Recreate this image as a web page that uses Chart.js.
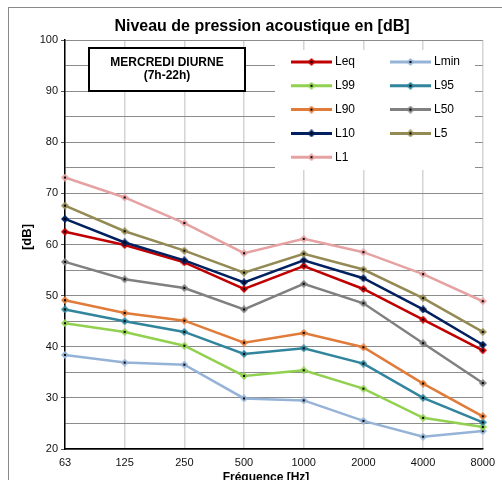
<!DOCTYPE html>
<html>
<head>
<meta charset="utf-8">
<script src="https://cdn.jsdelivr.net/npm/chart.js@4.4.1/dist/chart.umd.min.js"></script>
<style>
  html, body { margin: 0; padding: 0; background: #fff; }
  #wrap { position: relative; width: 502px; height: 480px; }
</style>
</head>
<body>
<div id="wrap"><canvas id="chart" width="502" height="480"></canvas></div>
<script>
const frequencies = ['63', '125', '250', '500', '1000', '2000', '4000', '8000'];

const leq  = [62.5, 59.9, 56.5, 51.3, 55.8, 51.3, 45.3, 39.3];
const lmin = [38.4, 36.9, 36.5, 29.9, 29.5, 25.5, 22.4, 23.5];
const l99  = [44.6, 42.9, 40.2, 34.3, 35.4, 31.8, 26.1, 24.3];
const l95  = [47.3, 45.0, 42.9, 38.6, 39.7, 36.7, 30.0, 25.2];
const l90  = [49.1, 46.6, 45.1, 40.8, 42.7, 39.9, 32.8, 26.4];
const l50  = [56.6, 53.2, 51.5, 47.3, 52.3, 48.5, 40.7, 32.9];
const l10  = [65.0, 60.4, 56.9, 52.6, 56.9, 53.4, 47.3, 40.4];
const l5   = [67.6, 62.6, 58.8, 54.5, 58.2, 55.1, 49.5, 42.9];
const l1   = [73.1, 69.2, 64.2, 58.3, 61.1, 58.5, 54.2, 48.9];

const seriesNames = ['Leq', 'Lmin', 'L99', 'L95', 'L90', 'L50', 'L10', 'L5', 'L1'];
const seriesData = [leq, lmin, l99, l95, l90, l50, l10, l5, l1];
const seriesColors = ['#C00000', '#95B3D7', '#92D050', '#31859C', '#E07B39',
                      '#808080', '#002060', '#948A54', '#E6A2A2'];

const yTicks = [20, 30, 40, 50, 60, 70, 80, 90, 100];

// little diamond with a black dot, like the excel marker
function makeMarker(color) {
  const c = document.createElement('canvas');
  c.width = 8; c.height = 8;
  const g = c.getContext('2d');
  g.fillStyle = color;
  g.beginPath();
  g.moveTo(4, 0); g.lineTo(8, 4); g.lineTo(4, 8); g.lineTo(0, 4);
  g.closePath();
  g.fill();
  g.fillStyle = '#000';
  g.fillRect(3, 3, 2, 2);
  return c;
}

const markers = seriesColors.map(makeMarker);

const datasets = seriesNames.map((name, i) => ({
  label: name,
  data: seriesData[i],
  borderColor: seriesColors[i],
  backgroundColor: seriesColors[i],
  borderWidth: 2.5,
  pointStyle: markers[i],
  pointRadius: 4,
  tension: 0,
  fill: false,
  order: -i,
}));

const FONT = '"Liberation Sans", Arial, sans-serif';

const decorations = {
  id: 'decorations',
  beforeDraw(chart) {
    const ctx = chart.ctx;
    ctx.save();
    ctx.fillStyle = '#fff';
    ctx.fillRect(0, 0, chart.width, chart.height);
    ctx.strokeStyle = '#8a8a8a';
    ctx.lineWidth = 1;
    ctx.strokeRect(8.5, 7.5, 1000, 1000);
    ctx.restore();
  },
  afterDraw(chart) {
    const ctx = chart.ctx;
    ctx.save();

    // title
    ctx.fillStyle = '#000';
    ctx.font = 'bold 16px ' + FONT;
    ctx.textAlign = 'center';
    ctx.textBaseline = 'alphabetic';
    ctx.fillText('Niveau de pression acoustique en [dB]', 262, 31);

    // axis titles
    ctx.font = 'bold 12px ' + FONT;
    ctx.fillText('Fréquence [Hz]', 266, 481);
    ctx.save();
    ctx.translate(27, 237);
    ctx.rotate(-Math.PI / 2);
    ctx.font = 'bold 13px ' + FONT;
    ctx.textBaseline = 'middle';
    ctx.fillText('[dB]', 0, 0);
    ctx.restore();

    // label box
    ctx.fillStyle = '#fff';
    ctx.fillRect(89, 48, 156, 43);
    ctx.strokeStyle = '#000';
    ctx.lineWidth = 2;
    ctx.strokeRect(89, 48, 156, 43);
    ctx.fillStyle = '#000';
    ctx.font = 'bold 12px ' + FONT;
    ctx.textBaseline = 'middle';
    ctx.fillText('MERCREDI DIURNE', 167, 63);
    ctx.fillText('(7h-22h)', 167, 76);

    // legend, two columns
    ctx.fillStyle = '#fff';
    ctx.fillRect(275, 50, 200, 120);
    ctx.font = '12px ' + FONT;
    ctx.textAlign = 'left';
    chart.data.datasets.forEach((ds, i) => {
      const col = i % 2, row = Math.floor(i / 2);
      const x0 = col === 0 ? 291 : 390;
      const y = 62 + row * 23.8;
      ctx.strokeStyle = ds.borderColor;
      ctx.lineWidth = 3;
      ctx.beginPath();
      ctx.moveTo(x0, y);
      ctx.lineTo(x0 + 41, y);
      ctx.stroke();
      ctx.drawImage(ds.pointStyle, x0 + 20.5 - 4, y - 4);
      ctx.fillStyle = '#000';
      ctx.fillText(ds.label, x0 + 44, y);
    });

    ctx.restore();
  }
};

new Chart(document.getElementById('chart'), {
  type: 'line',
  data: { labels: frequencies, datasets: datasets },
  options: {
    responsive: false,
    animation: false,
    layout: { padding: { left: 0, right: 19, top: 40, bottom: 0 } },
    plugins: {
      legend: { display: false },
      title: { display: false },
      tooltip: { enabled: false },
    },
    scales: {
      x: {
        type: 'category',
        offset: false,
        grid: { color: '#d4d4d4', lineWidth: 1.5, drawTicks: false, offset: false },
        border: { color: '#000', width: 1.5 },
        ticks: { color: '#111', font: { family: FONT, size: 11 }, padding: 7, maxRotation: 0 },
        afterFit: s => { s.height = 31; },
      },
      y: {
        min: yTicks[0],
        max: yTicks[yTicks.length - 1],
        grid: {
          color: '#8c8c8c',
          lineWidth: 1,
          tickLength: 4,
          tickColor: c => (c.tick && c.tick.value % 10 === 0 ? '#555' : 'rgba(0,0,0,0)'),
        },
        border: { color: '#000', width: 1.5 },
        ticks: {
          stepSize: 5,
          color: '#111',
          padding: 3,
          font: { family: FONT, size: 11 },
          callback: v => (yTicks.includes(v) ? v : ''),
        },
        afterFit: s => { s.width = 65; },
      },
    },
  },
  plugins: [decorations],
});
</script>
</body>
</html>
